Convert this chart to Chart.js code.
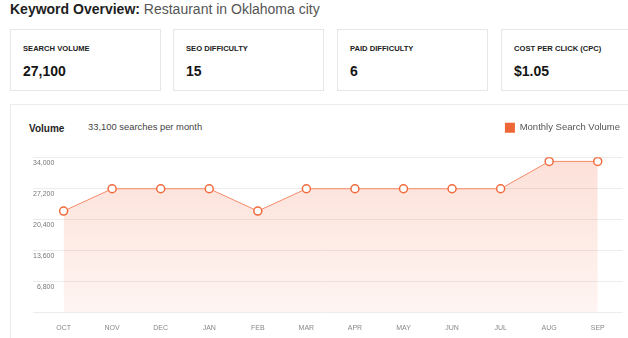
<!DOCTYPE html>
<html>
<head>
<meta charset="utf-8">
<script src="https://cdn.jsdelivr.net/npm/chart.js@4"></script>
<style>
  html, body { margin: 0; padding: 0; background: #fff; }
  body { width: 628px; height: 338px; overflow: hidden; position: relative; font-family: "Liberation Sans", Arial, sans-serif; }
  .title { position: absolute; left: 10px; top: 2px; font-size: 14px; line-height: 14px; color: #555; white-space: nowrap; }
  .title b { color: #1e1e1e; }
  .card { position: absolute; top: 29px; width: 151px; height: 62px; box-sizing: border-box; border: 1px solid #e6e6e6; background: #fff; }
  .card .lbl { position: absolute; left: 12px; top: 15px; font-size: 7.6px; line-height: 7.6px; font-weight: bold; color: #222; white-space: nowrap; }
  .card .val { position: absolute; left: 12px; top: 34px; font-size: 14px; line-height: 14px; font-weight: bold; color: #151515; white-space: nowrap; }
  .panel { position: absolute; left: 10px; top: 104px; width: 640px; height: 260px; box-sizing: border-box; border: 1px solid #ececec; }
  .vol { position: absolute; left: 29px; top: 124px; font-size: 10px; line-height: 10px; font-weight: bold; color: #1e1e1e; }
  .spm { position: absolute; left: 88px; top: 122px; font-size: 9.4px; line-height: 9.4px; color: #444; white-space: nowrap; }
  .chart-box { position: absolute; left: 0; top: 112px; width: 628px; height: 238px; }
</style>
</head>
<body>
<div class="title"><b>Keyword Overview:</b> Restaurant in Oklahoma city</div>

<div class="card" style="left:10px"><div class="lbl">SEARCH VOLUME</div><div class="val">27,100</div></div>
<div class="card" style="left:173px"><div class="lbl">SEO DIFFICULTY</div><div class="val">15</div></div>
<div class="card" style="left:337px"><div class="lbl">PAID DIFFICULTY</div><div class="val">6</div></div>
<div class="card" style="left:501px"><div class="lbl">COST PER CLICK (CPC)</div><div class="val">$1.05</div></div>

<div class="panel"></div>
<div class="vol">Volume</div>
<div class="spm">33,100 searches per month</div>
<div class="chart-box"><canvas id="volumeChart"></canvas></div>

<script>
const months = ["OCT", "NOV", "DEC", "JAN", "FEB", "MAR", "APR", "MAY", "JUN", "JUL", "AUG", "SEP"];
const volumes = [22200, 27100, 27100, 27100, 22200, 27100, 27100, 27100, 27100, 27100, 33100, 33100];
const yTicks = [0, 6800, 13600, 20400, 27200, 34000];
const seriesName = "Monthly Search Volume";

const ORANGE = "#ee6536";

/* ---------- legend needs a bit more room under it ---------- */
const legendGap = {
  id: "legendGap",
  beforeLayout(chart) {
    const lg = chart.legend;
    if (!lg || lg._gapDone) return;
    const fit = lg.fit;
    lg.fit = function () {
      fit.apply(this, arguments);
      this.height += 14.6;
    };
    lg._gapDone = true;
  }
};

/* ---------- soft fill under the line ---------- */
function areaFill(ctx) {
  const area = ctx.chart.chartArea;
  if (!area) return "rgba(242,110,70,0.15)";
  const g = ctx.chart.ctx.createLinearGradient(0, area.top, 0, area.bottom);
  g.addColorStop(0, "rgba(242,110,70,0.21)");
  g.addColorStop(1, "rgba(242,110,70,0.07)");
  return g;
}

new Chart(document.getElementById("volumeChart"), {
  type: "line",
  data: {
    datasets: [{
      label: seriesName,
      data: volumes.map((v, i) => ({ x: i, y: v })),
      borderColor: "#f58a68",
      borderWidth: 1,
      backgroundColor: areaFill,
      fill: "origin",
      tension: 0,
      pointRadius: 4,
      pointBorderWidth: 1.5,
      pointBackgroundColor: "#fff",
      pointBorderColor: "#f26a3c"
    }]
  },
  options: {
    responsive: true,
    maintainAspectRatio: false,
    animation: false,
    events: [],
    layout: { padding: { top: 6.7, left: 33, right: 4, bottom: 5.3 } },
    plugins: {
      tooltip: { enabled: false },
      legend: {
        position: "top",
        align: "end",
        labels: {
          boxWidth: 10,
          boxHeight: 10,
          padding: 4,
          color: "#555",
          font: { family: "Liberation Sans", size: 9.5 },
          generateLabels: chart => chart.data.datasets.map((d, i) => ({
            text: d.label,
            fillStyle: ORANGE,
            strokeStyle: ORANGE,
            lineWidth: 0,
            hidden: false,
            datasetIndex: i,
            fontColor: "#555"
          }))
        }
      }
    },
    scales: {
      x: {
        type: "linear",
        min: -0.63,
        max: 11.51,
        grid: { display: false, drawTicks: false },
        border: { display: false },
        afterBuildTicks: scale => { scale.ticks = months.map((m, i) => ({ value: i })); },
        ticks: {
          autoSkip: false,
          maxRotation: 0,
          padding: 12,
          color: "#888",
          font: { family: "Liberation Sans", size: 7 },
          callback: v => months[v] ?? ""
        }
      },
      y: {
        min: 0,
        max: 34000,
        afterBuildTicks: scale => { scale.ticks = yTicks.map(v => ({ value: v })); },
        grid: { color: "#ececec", drawTicks: false },
        border: { display: false },
        ticks: {
          mirror: true,
          crossAlign: "far",
          padding: 0,
          labelOffset: 6,
          color: "#777",
          font: { family: "Liberation Sans", size: 7 },
          callback: v => v === 0 ? "" : v.toLocaleString("en-US")
        }
      }
    }
  },
  plugins: [legendGap]
});
</script>
</body>
</html>
